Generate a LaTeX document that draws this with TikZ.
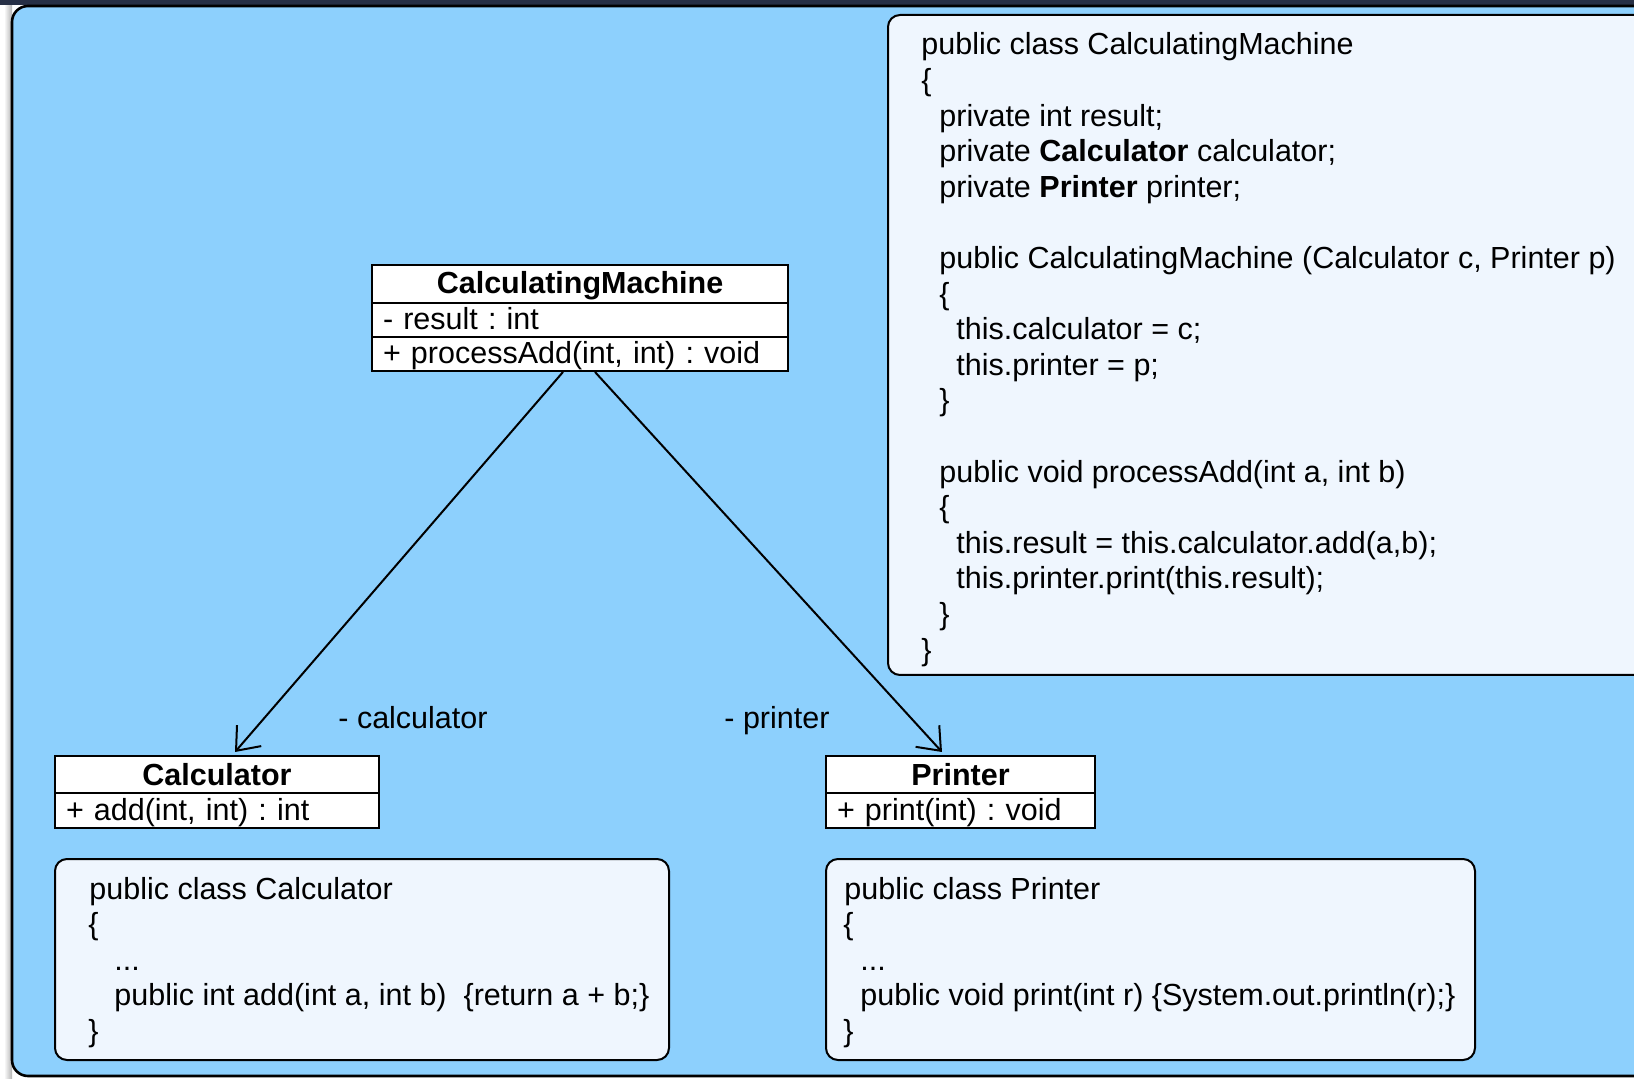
\documentclass[tikz,border=0pt]{standalone}
\usepackage{fontspec}
\setmainfont{Liberation Sans}
\frenchspacing
\usetikzlibrary{arrows.meta,calc}
\definecolor{bgblue}{HTML}{8DD0FD}
\definecolor{codefill}{HTML}{EFF6FE}
\definecolor{topbar}{HTML}{262F45}
\tikzset{
  basefont/.style={font=\fontsize{15.25pt}{17.9pt}\selectfont},
  txt/.style={basefont, anchor=base west, inner sep=0pt},
  classhead/.style={draw, fill=white, line width=1pt, inner sep=0pt,
    text height=12pt, text depth=2pt, minimum height=19pt,
    font=\fontsize{15.25pt}{17.9pt}\selectfont\bfseries},
  classrow/.style={draw, fill=white, line width=1pt, inner ysep=0pt, inner xsep=5.5pt,
    text height=12pt, text depth=2pt, minimum height=17pt, align=left, basefont},
  codebox/.style={draw, fill=codefill, line width=1pt, rounded corners=6pt},
  assoc/.style={-{Straight Barb[length=10pt,width=16pt]}, line width=1pt}
}
\begin{document}
\begin{tikzpicture}[x=0.5pt,y=-0.5pt]
\useasboundingbox (0,0) rectangle (1634,1079);
\clip (0,0) rectangle (1634,1079);
% surroundings
\fill[white] (0,0) rectangle (1634,1079);
\shade[left color=white, right color=black!30] (4,0) rectangle (12,1079);
\fill[topbar] (0,0) rectangle (1634,5);
% frame
\draw[fill=bgblue, line width=1.3pt, rounded corners=8pt] (12,6) rectangle (1680,1076);

% code boxes
\draw[codebox] (888,15) rectangle (1650,675);
\draw[codebox] (55,859) rectangle (669,1060);
\draw[codebox] (826,859) rectangle (1475,1060);

% top-right code
\node[txt] (c0)  at (921,55.0)  {public class CalculatingMachine};
\node[txt] (c1)  at (921,90.6)  {\{};
\node[txt] (c2)  at (939,126.2) {private int result;};
\node[txt] (c3)  at (939,161.8) {private \textbf{Calculator} calculator;};
\node[txt] (c4)  at (939,197.4) {private \textbf{Printer} printer;};
\node[txt] (c6)  at (939,268.6) {public CalculatingMachine (Calculator c, Printer p)};
\node[txt] (c7)  at (939,304.2) {\{};
\node[txt] (c8)  at (956,339.8) {this.calculator = c;};
\node[txt] (c9)  at (956,375.4) {this.printer = p;};
\node[txt] (c10) at (939,411.0) {\}};
\node[txt] (c12) at (939,482.2) {public void processAdd(int a, int b)};
\node[txt] (c13) at (939,517.8) {\{};
\node[txt] (c14) at (956,553.4) {this.result = this.calculator.add(a,b);};
\node[txt] (c15) at (956,589.0) {this.printer.print(this.result);};
\node[txt] (c16) at (939,624.6) {\}};
\node[txt] (c17) at (921,660.2) {\}};

% Calculator code
\node[txt] (k0) at (89,899)    {public class Calculator};
\node[txt] (k1) at (88,934.5)  {\{};
\node[txt] (k2) at (114,970)   {...};
\node[txt] (k3) at (114,1005.5){public int add(int a, int b)~~\{return a + b;\}};
\node[txt] (k4) at (88,1041)   {\}};

% Printer code
\node[txt] (p0) at (844,899)    {public class Printer};
\node[txt] (p1) at (843,934.5)  {\{};
\node[txt] (p2) at (860,970)    {...};
\node[txt] (p3) at (860,1005.5) {public void print(int r) \{System.out.println(r);\}};
\node[txt] (p4) at (843,1041)   {\}};

% classes
\node[classhead, minimum width=208pt] (cmh) at (580,284) {CalculatingMachine};
\node[classrow, text width=197pt] (cma) at (580,320) {- result : int};
\node[classrow, text width=197pt] (cmm) at (580,354) {+ processAdd(int, int) : void};

\node[classhead, minimum width=162pt] (calh) at (217,775) {Calculator};
\node[classrow, text width=151pt] (calm) at (217,810.5) {+ add(int, int) : int};

\node[classhead, minimum width=134.5pt] (prh) at (960.5,775) {Printer};
\node[classrow, text width=123.5pt] (prm) at (960.5,810.5) {+ print(int) : void};

% associations
\draw[assoc] ($(cmm.south)+(-17,0)$) -- ($(calh.north)+(18,-3)$);
\draw[assoc] ($(cmm.south)+(15,0)$) -- ($(prh.north)+(-18.5,-3)$);

\node[txt] (lcalc) at (338,729) {- calculator};
\node[txt] (lprint) at (724,729) {- printer};
\end{tikzpicture}
\end{document}
